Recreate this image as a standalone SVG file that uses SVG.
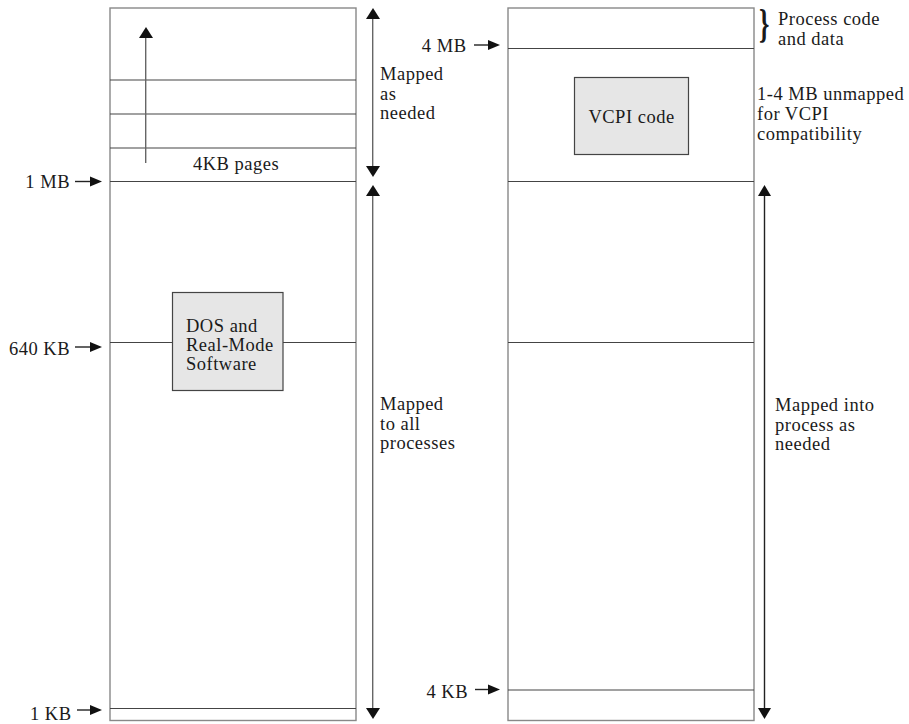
<svg xmlns="http://www.w3.org/2000/svg" width="909" height="724" viewBox="0 0 909 724">
<style>
text{font-family:"Liberation Serif","Times New Roman",serif;font-size:18.5px;letter-spacing:0.5px;fill:#1a1a1a}
.box{fill:#fff;stroke:#888;stroke-width:1.4}
.div{stroke:#444;stroke-width:1.2;fill:none}
.gray{stroke:#666;stroke-width:1.4;fill:none}
.dark{stroke:#222;stroke-width:1.4;fill:none}
.shade{fill:#e6e6e6;stroke:#444;stroke-width:1.2}
.head{fill:#111}
.end{text-anchor:end}
.mid{text-anchor:middle}
</style>
<g id="left-memory">
<rect class="box" x="110" y="8" width="246" height="712.5"/>
<line class="div" x1="110" y1="80" x2="356" y2="80"/>
<line class="div" x1="110" y1="114" x2="356" y2="114"/>
<line class="div" x1="110" y1="148" x2="356" y2="148"/>
<line class="div" x1="110" y1="181.5" x2="356" y2="181.5"/>
<line class="div" x1="110" y1="342.5" x2="356" y2="342.5"/>
<line class="div" x1="110" y1="708.5" x2="356" y2="708.5"/>
<text class="mid" x="236" y="170">4KB pages</text>
</g>
<g id="dos-box">
<rect class="shade" x="172.5" y="292.5" width="110.5" height="98"/>
<text x="186" y="331.5">DOS and</text>
<text x="186" y="350.5">Real-Mode</text>
<text x="186" y="369.5">Software</text>
</g>
<g id="right-memory">
<rect class="box" x="508" y="8" width="246" height="712.5"/>
<line class="div" x1="508" y1="48.5" x2="754" y2="48.5"/>
<line class="div" x1="508" y1="181.5" x2="754" y2="181.5"/>
<line class="div" x1="508" y1="342.5" x2="754" y2="342.5"/>
<line class="div" x1="508" y1="690" x2="754" y2="690"/>
</g>
<g id="vcpi-box">
<rect class="shade" x="574.5" y="77.5" width="114" height="77"/>
<text class="mid" x="631.5" y="123">VCPI code</text>
</g>
<g id="connectors">
<line class="gray" x1="145.7" y1="163" x2="145.7" y2="37"/>
<polygon class="head" points="139,38 153,38 146,27"/>
<line class="gray" x1="372.7" y1="18" x2="372.7" y2="167"/>
<polygon class="head" points="366,19 380,19 373,8"/>
<polygon class="head" points="366,166 380,166 373,177"/>
<line class="gray" x1="372.7" y1="195" x2="372.7" y2="709"/>
<polygon class="head" points="366,196 380,196 373,185"/>
<polygon class="head" points="366,708 380,708 373,719"/>
<line class="dark" x1="764.5" y1="195" x2="764.5" y2="709"/>
<polygon class="head" points="758,196 771,196 764.5,185"/>
<polygon class="head" points="758,708 771,708 764.5,719"/>
<line class="dark" x1="75" y1="181.5" x2="92" y2="181.5"/>
<polygon class="head" points="90,176.5 90,186.5 102,181.5"/>
<line class="dark" x1="75" y1="347" x2="92" y2="347"/>
<polygon class="head" points="90,342 90,352 102,347"/>
<line class="dark" x1="77" y1="710" x2="92" y2="710"/>
<polygon class="head" points="90,705 90,715 102,710"/>
<line class="dark" x1="474" y1="45" x2="490" y2="45"/>
<polygon class="head" points="488,40 488,50 500,45"/>
<line class="dark" x1="475" y1="689.5" x2="490" y2="689.5"/>
<polygon class="head" points="488,684.5 488,694.5 500,689.5"/>
</g>
<g id="labels">
<text class="end" x="70" y="188">1 MB</text>
<text class="end" x="70" y="355">640 KB</text>
<text class="end" x="71.5" y="720">1 KB</text>
<text class="end" x="466.5" y="52">4 MB</text>
<text class="end" x="468" y="698">4 KB</text>
<text x="380" y="80">Mapped</text>
<text x="380" y="99.5">as</text>
<text x="380" y="119">needed</text>
<text x="380" y="410">Mapped</text>
<text x="380" y="429.5">to all</text>
<text x="380" y="449">processes</text>
<text transform="translate(759,37) scale(1.1,1.71)" style="font-size:24px;letter-spacing:0;font-weight:bold">}</text>
<text x="778" y="25">Process code</text>
<text x="778" y="44.5">and data</text>
<text x="757" y="100">1-4 MB unmapped</text>
<text x="757" y="120">for VCPI</text>
<text x="757" y="139.5">compatibility</text>
<text x="775" y="411">Mapped into</text>
<text x="775" y="430.5">process as</text>
<text x="775" y="450">needed</text>
</g>
</svg>
